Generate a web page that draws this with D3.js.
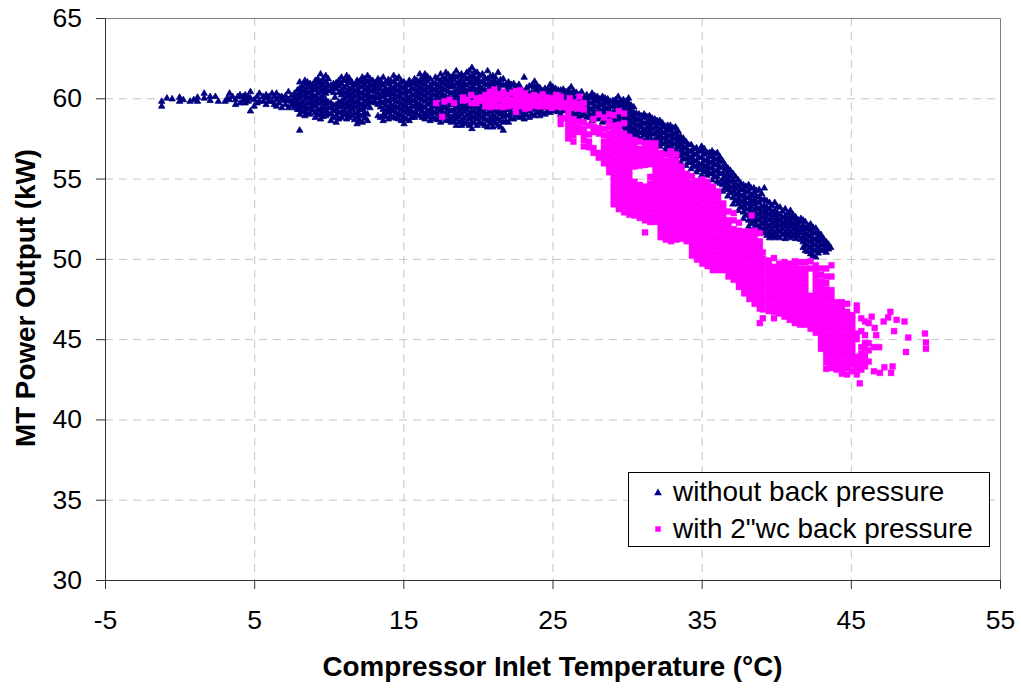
<!DOCTYPE html>
<html><head><meta charset="utf-8">
<script src="https://cdn.jsdelivr.net/npm/d3@7/dist/d3.min.js"></script>
<style>html,body{margin:0;padding:0;background:#fff}svg{display:block}text{font-family:"Liberation Sans",Arial,sans-serif;fill:#000}</style>
</head><body><div id="chart"></div>
<script>
const xTicks=[-5,5,15,25,35,45,55];
const yTicks=[30,35,40,45,50,55,60,65];
const xTitle="Compressor Inlet Temperature (°C)";
const yTitle="MT Power Output (kW)";
const seriesNames=["without back pressure",'with 2"wc back pressure'];
// columns: [temperature, [power readings at that temperature]]
const navyPlateau=[[-1.2,[59.5,59.8]],[-.85,[60]],[-.5,[59.95]],[0,[59.8,60.05]],[.25,[59.9]],[.7,[59.8]],[.95,[59.9]],[1.2,[59.8,60.05]],[1.65,[60,60.3]],[2.05,[59.85,60.1]],[2.4,[60.1]],[2.6,[59.8]],[3.05,[59.8]],[3.2,[60]],[3.35,[59.9,60.3]],[3.55,[60.1]],[3.75,[59.9,59.6]],[3.9,[60.1]],[4.05,[59.7,60.2]],[4.25,[59.85,60.1]],[4.4,[59.7,60,60.2]],[4.6,[59.8,60.1]],[4.75,[59.2,60,60.4]],[5,[59.5,59.9]],[5.2,[59.7,60.1]],[5.35,[59.8,60.3]],[5.6,[59.8,60.1]],[5.8,[59.6,60,60.2]],[6,[59.8,60.1]],[6.2,[59.8,60.3]],[6.35,[59.6,60.1]],[6.5,[59.5,59.9,60.3]],[6.7,[59.7,60.1]],[6.85,[59.4,59.9,60.1]],[7.1,[59.6,59.85,60.15]],[7.3,[59.4,59.9,60.4]],[7.5,[59.55,59.8,60.15]],[7.7,[59.4,59.7,60,60.3]],[7.9,[59.3,59.55,59.85,60.15,60.5]]];
const navyCloud=[
[8.05,[58,59,59.3,59.6,60,60.3,60.6,61]],[8.4,[58.9,59.2,59.5,59.9,60.2,60.5,60.9,61.1]],[8.75,[59,59.4,59.7,60,60.4,60.7,60.9]],[9.1,[58.8,59.1,59.5,59.8,60.1,60.5,60.8,61.1]],[9.45,[58.7,59,59.3,59.7,60,60.4,60.7,61,61.5]],[9.8,[58.9,59.2,59.6,59.9,60.3,60.6,61,61.4]],[10.15,[58.6,59,59.4,59.7,60.5,60.8]],[10.42,[60.05]],[10.5,[58.5,58.9,59.3,59.6,60.6,60.95]],[10.85,[58.8,59.1,59.5,59.8,60.2,60.5,60.9,61.3]],[11.2,[58.7,59,59.4,59.7,60.1,60.4,60.8,61.1,61.4]],[11.55,[58.9,59.3,59.6,59.95,60.3,60.65,61]],[11.9,[58.4,58.8,59.1,59.5,59.8,60.2,60.5,60.9,61.1]],[12.25,[58.5,58.9,59.3,59.6,60,60.3,60.7,61,61.3]],[12.6,[58.6,59,59.6,59.9,60.25,60.6,61,61.4]],[12.95,[59.8,60.1,60.5,60.8,61.1]],[13.3,[58.9,59.6,60,60.3,60.7,61,61.2]],[13.65,[58.6,58.95,59.3,59.7,60.1,60.4,60.8,61.3]],[14,[58.7,59.1,59.4,59.8,60.2,60.5,60.9,61.15]],[14.35,[58.8,59.2,59.5,59.9,60.25,60.6,61,61.4]],[14.7,[58.7,59,59.4,59.75,60.1,60.45,60.8,61.3]],[15.05,[58.4,58.8,59.2,59.55,59.9,60.3,60.65,61]],[15.4,[58.6,59,59.3,59.7,60,60.4,60.8,61.1]],[15.75,[58.8,59.1,59.5,59.85,60.2,60.55,60.9,61.2]],[16.1,[58.9,59.3,59.6,60,60.35,60.7,61.05,61.5]],[16.45,[58.7,59,59.4,59.8,60.15,60.5,60.85,61.2,61.5]],[16.8,[58.6,59,59.3,59.7,60,60.4,60.75,61.2]],[17.15,[58.7,59.1,59.5,59.85,60.2,60.55,60.9,61.3]],[17.5,[58.5,58.9,59.25,59.6,60,60.35,60.7,61.05,61.5]],[17.85,[58.6,59,59.4,59.75,60.1,60.5,60.85,61.2,61.6]],[18.2,[58.5,58.8,59.2,59.6,59.95,60.3,60.7,61,61.3]],[18.55,[58.3,58.7,59,59.4,59.8,60.15,60.5,60.9,61.3,61.7]],[18.9,[58.3,58.6,59,59.35,59.7,60.1,60.45,60.8,61.15,61.5]],[19.25,[58.5,58.9,59.3,59.65,60,60.4,60.8,61.2,61.6]],[19.6,[58.1,58.5,58.85,59.2,59.6,60,60.35,60.7,61.05,61.4,61.9]],[19.95,[58.3,58.7,59.05,59.4,59.8,60.15,60.5,60.9,61.2,61.6]],[20.3,[58.4,58.8,59.15,59.5,59.9,60.25,60.6,61,61.5]],[20.65,[58.2,58.6,59,59.35,59.7,60.1,60.5,60.85,61.2,61.7]],[21,[58.2,58.6,58.95,59.3,59.7,60,60.4,60.8,61.1,61.4]],[21.35,[58.3,58.7,59.1,59.45,59.8,60.2,60.6,60.95,61.6]],[21.7,[58,58.5,58.85,59.2,59.6,60,60.35,60.8,61.2]],[22.05,[58.5,58.9,59.3,59.65,60,60.4,60.7,61]],[22.4,[58.7,59.05,59.4,59.8,60.2,60.5,60.9]],[22.75,[58.8,59.15,59.5,59.9,60.3,60.6,60.85]],[23.1,[58.7,59,59.4,59.75,60.1,60.4,61.3]],[23.45,[58.8,59.2,59.55,59.9,60.3,60.75]],[23.8,[58.9,59.3,59.65,60,60.4,60.7,61.05]],[24.15,[58.9,59.25,59.6,59.95,60.3,60.65]],[24.5,[59,59.4,59.75,60.1,60.4,60.6]],[24.85,[59.1,59.45,59.8,60.2,60.5,60.85]],[25.2,[59.2,59.5,59.9,60.2,60.6]],[25.55,[59,59.4,59.8,60.1,60.5]],[25.9,[59.3,59.7,60.05,60.4]],[26.25,[59.2,59.6,59.9,60.3,60.7]]];
const navyCloudInfill=[
[8.22,[59.15,59.45,59.75,60.15,60.45,60.75]],[8.57,[59.05,59.35,59.7,60.05,60.35,60.7,61]],[8.92,[59.25,59.55,59.85,60.2,60.55,60.85]],[9.27,[58.95,59.3,59.65,59.95,60.3,60.65,60.95,61.2]],[9.62,[58.85,59.15,59.45,59.8,60.15,60.5,60.85,61.2]],[9.97,[59.05,59.4,59.75,60.45,60.8,61.2]],[10.32,[58.8,59.2,59.55,60.35,60.7,60.9]],[10.67,[58.7,59.1,59.45,59.75,60.35,60.75,61.1]],[11.02,[58.95,59.25,59.6,59.95,60.3,60.65,61.1]],[11.37,[58.8,59.15,59.5,59.85,60.2,60.55,60.95,61.25]],[11.72,[58.65,59.05,59.4,59.75,60.1,60.45,60.8]],[12.07,[58.6,58.95,59.3,59.65,60,60.35,60.7,61.05]],[12.42,[58.75,59.1,59.45,59.8,60.15,60.5,60.85,61.2]],[12.77,[59.4,59.75,60.1,60.45,60.8,61.2]],[13.12,[59.7,60.05,60.4,60.65,60.95]],[13.47,[58.8,59.45,59.8,60.15,60.55,60.9,61.1]],[13.82,[58.85,59.2,59.55,59.9,60.25,60.6,61]],[14.17,[58.9,59.25,59.6,60,60.35,60.7,61.05]],[14.52,[58.75,59.1,59.45,59.8,60.15,60.5,60.85,61.2]],[14.87,[58.6,58.95,59.3,59.65,60,60.35,60.7,61.05]],[15.22,[58.7,59.1,59.45,59.8,60.15,60.5,60.85]],[15.57,[58.8,59.15,59.5,59.85,60.2,60.6,60.95]],[15.92,[59,59.35,59.7,60.1,60.45,60.8,61.1]],[16.27,[58.8,59.15,59.5,59.9,60.25,60.6,60.95,61.3]],[16.62,[58.85,59.2,59.6,59.95,60.3,60.65,61.05,61.35]],[16.97,[58.8,59.15,59.5,59.85,60.2,60.55,60.95]],[17.32,[58.65,59,59.35,59.7,60.1,60.45,60.8,61.2]],[17.67,[58.75,59.1,59.45,59.8,60.2,60.55,60.95,61.3]],[18.02,[58.65,58.95,59.3,59.65,60,60.4,60.75,61.1,61.45]],[18.37,[58.55,58.9,59.25,59.6,60,60.35,60.75,61.15,61.45]],[18.72,[58.5,58.85,59.2,59.55,59.9,60.3,60.65,61,61.4]],[19.07,[58.4,58.75,59.15,59.5,59.85,60.25,60.6,60.95,61.35]],[19.42,[58.3,58.7,59.05,59.45,59.8,60.2,60.55,60.95,61.3,61.7]],[19.77,[58.45,58.8,59.15,59.5,59.9,60.25,60.6,60.95,61.3,61.65]],[20.12,[58.5,58.9,59.25,59.6,59.95,60.35,60.7,61.05,61.4]],[20.47,[58.3,58.7,59.05,59.4,59.8,60.15,60.5,60.9,61.25]],[20.82,[58.4,58.75,59.15,59.5,59.85,60.25,60.6,60.95,61.35]],[21.17,[58.45,58.8,59.2,59.55,59.9,60.3,60.65,61,61.3]],[21.52,[58.2,58.6,59,59.35,59.7,60.1,60.45,60.85,61.15]],[21.87,[58.55,58.95,59.3,59.7,60.05,60.45,60.85]],[22.22,[58.75,59.1,59.45,59.85,60.2,60.55,60.85]],[22.57,[58.9,59.25,59.6,60,60.35,60.7]],[22.92,[58.85,59.2,59.6,59.95,60.25,60.55]],[23.27,[58.95,59.3,59.65,60,60.3,60.65]],[23.62,[59,59.35,59.7,60.05,60.35,60.8]],[23.97,[59.1,59.45,59.8,60.15,60.5,60.8]],[24.32,[59.1,59.45,59.8,60.15,60.45]],[24.67,[59.2,59.55,59.9,60.25,60.55]],[25.02,[59.3,59.65,60,60.35,60.7]],[25.37,[59.15,59.5,59.85,60.2,60.5]],[25.72,[59.2,59.55,59.9,60.25,60.55]],[26.07,[59.1,59.45,59.8,60.15,60.5]],[26.42,[59,59.35,59.7,60.05,60.45]]];
const navyFalling=[
[26.6,[58.6,59,59.35,59.7,60,60.35]],[26.95,[58.9,59.2,59.6,59.95,60.4]],[27.3,[58.8,59.2,59.5,59.85,60.2]],[27.65,[58.6,58.9,59.3,59.7,60.05,60.3]],[28,[58.7,59.1,59.45,59.8,60.1]],[28.35,[58.5,58.9,59.25,59.6,59.9,60.1]],[28.7,[58.6,59,59.35,59.7,59.95]],[29.05,[58.4,58.8,59.1,59.5,59.85]],[29.4,[58.3,58.7,59,59.4,59.7,60.1]],[29.75,[58.2,58.6,58.95,59.3,59.6,59.9]],[30.1,[57.9,58.3,58.65,59,59.35,59.7,60]],[30.45,[57.7,58.1,58.45,58.8,59.1,59.45]],[30.8,[57.5,57.9,58.3,58.65,59]],[31.15,[57.3,57.7,58,58.4,58.8,59]],[31.5,[57.2,57.6,57.95,58.3,58.6,58.9]],[31.85,[57.1,57.4,57.8,58.15,58.5,58.7]],[32.2,[57,57.35,57.7,58,58.4,58.6]],[32.55,[56.8,57.2,57.55,57.9,58.25]],[32.9,[56.6,57,57.3,57.65,58,58.3]],[33.25,[56.4,56.8,57.15,57.5,57.85,58.2]],[33.6,[56,56.4,56.75,57.1,57.4,57.6]],[33.95,[55.8,56.2,56.55,56.9,57.3]],[34.3,[55.6,56,56.3,56.7,57.1]],[34.65,[55.4,55.75,56.1,56.5,56.9]],[35,[55.2,55.6,55.9,56.3,56.7,57]],[35.35,[55.2,55.5,55.8,56.15,56.6]],[35.7,[54.9,55.3,55.65,56,56.4,56.7]],[36.05,[54.8,55.1,55.5,55.85,56.2,56.6]],[36.4,[54.2,54.6,54.95,55.3,55.7,56.1]],[36.75,[53.9,54.3,54.6,54.95,55.3,55.65]],[37.1,[53.4,53.8,54.2,54.5,54.9,55.3]],[37.45,[53,53.4,53.75,54.1,54.5,54.9]],[37.8,[52.5,52.9,53.3,53.6,53.95,54.3,54.6]],[38.15,[52,52.4,52.75,53.1,53.45,53.8,54.2,54.6]],[38.5,[51.9,52.3,52.65,53,53.4,53.7,54.1,54.4]],[38.85,[51.7,52,52.4,52.75,53.1,53.5,53.85,54.3]],[39.2,[51.6,51.9,52.3,52.65,53,53.3,53.7,54.4]],[39.55,[51.3,51.65,52,52.4,52.75,53.1,53.5]],[39.9,[51.3,51.6,52,52.35,52.7,53,53.5]],[40.25,[51.3,51.7,52.05,52.4,52.75,53.2]],[40.6,[51.25,51.6,52,52.3,52.65,53.1]],[40.95,[51.3,51.65,52,52.3,52.65,53]],[41.3,[51.25,51.6,51.95,52.25,52.6]],[41.65,[51.2,51.6,51.9,52.3,52.5]],[41.95,[50.5,50.85,51.2,51.55,51.9,52.3]],[42.3,[50.3,50.7,51.05,51.4,51.75,52.15]],[42.65,[50.1,50.5,50.85,51.2,51.6,51.9]],[43,[50.5,50.85,51.2,51.5]],[43.35,[50.4,50.75,51.05]],[43.65,[50.7]]];
const navyFallingInfill=[
[26.77,[58.8,59.15,59.5,59.85,60.2]],[27.12,[59,59.35,59.7,60.05]],[27.47,[59,59.35,59.7,60.05]],[27.82,[58.8,59.15,59.5,59.85,60.15]],[28.17,[58.8,59.25,59.6,59.95]],[28.52,[58.7,59.05,59.4,59.75,60]],[28.87,[58.8,59.15,59.5,59.8]],[29.22,[58.6,58.95,59.25,59.6,59.9]],[29.57,[58.5,58.85,59.2,59.55,59.85]],[29.92,[58.1,58.45,58.8,59.15,59.5,59.8]],[30.27,[57.9,58.2,58.55,58.9,59.2,59.55]],[30.62,[57.7,58,58.35,58.7,59.05]],[30.97,[57.5,57.85,58.2,58.55,58.9]],[31.32,[57.45,57.8,58.15,58.5,58.85]],[31.67,[57.35,57.75,58.1,58.45,58.75]],[32.02,[57.2,57.55,57.9,58.25,58.6]],[32.37,[57.15,57.5,57.85,58.2,58.45]],[32.72,[57,57.35,57.7,58.05,58.3]],[33.07,[56.8,57.15,57.5,57.8,58.15]],[33.42,[56.5,56.95,57.3,57.65,57.95]],[33.77,[56.25,56.6,56.95,57.25,57.5]],[34.12,[56,56.35,56.7,57.1]],[34.47,[55.8,56.15,56.5,56.85]],[34.82,[55.55,55.9,56.3,56.7]],[35.17,[55.4,55.75,56.1,56.5,56.85]],[35.52,[55.3,55.65,56,56.35,56.6]],[35.87,[55.1,55.45,55.85,56.2,56.55]],[36.22,[54.7,55.3,55.7,56.05,56.35]],[36.57,[54.4,54.75,55.1,55.5,55.85]],[36.92,[54.1,54.45,54.8,55.15,55.5]],[37.27,[53.6,54,54.35,54.7,55.1]],[37.62,[53.2,53.55,53.9,54.3,54.7]],[37.97,[52.7,53.1,53.45,53.8,54.15,54.5]],[38.32,[52.2,52.55,52.9,53.25,53.6,53.95,54.4]],[38.67,[52.1,52.45,52.8,53.2,53.55,53.9,54.25]],[39.02,[51.85,52.2,52.55,52.9,53.25,53.65,54.05]],[39.37,[51.45,51.8,52.15,52.5,52.85,53.2,53.6]],[39.72,[51.45,51.8,52.2,52.55,52.9,53.3]],[40.07,[51.45,51.8,52.15,52.5,52.85,53.25]],[40.42,[51.5,51.85,52.2,52.55,52.95]],[40.77,[51.45,51.8,52.15,52.5,52.85]],[41.12,[51.45,51.8,52.15,52.5,52.75]],[41.47,[51.4,51.75,52.1,52.4]],[41.8,[50.7,51.05,51.4,51.75,52.1,52.4]],[42.12,[50.45,50.8,51.15,51.5,51.85,52.05]],[42.47,[50.2,50.55,50.9,51.25,51.6,51.95]],[42.82,[50.35,50.7,51.05,51.4,51.65]],[43.17,[50.55,50.9,51.25]],[43.5,[50.6,50.9]]];
const magentaBand=[[17.2,[59.7]],[17.6,[58.85]],[17.75,[59.8]],[18.1,[59.9]],[18.4,[59.7]],[19,[59.85,60.05]],[19.3,[59.9]],[19.55,[59.7,60.2]],[19.9,[59.7,60]],[20.2,[59.85,60.05]],[20.5,[59.5,59.85,60.2]],[20.8,[59.45,59.8,60.1,60.4]],[21.1,[59.5,59.85,60.2,60.55]],[21.4,[59.5,59.9,60.25]],[21.7,[59.45,59.8,60.15,60.4]],[22,[59.5,59.85,60.2]],[22.3,[59.55,59.9,60.35]],[22.55,[59.15,59.5,59.85,60.15,60.45]],[22.85,[59.5,59.8,60.15,60.5]],[23.15,[59.35,59.7,60.05,60.3]],[23.45,[59.4,59.75,60.1]],[23.75,[59.55,59.85,60.2]],[24.05,[59.5,59.8,60.1]],[24.35,[59.5,59.85,60.25]],[24.65,[59.5,59.8,60.05]],[24.95,[59.4,59.75,60]],[25.25,[59.5,59.85,60.2]],[25.55,[58.4,58.75,59.45,59.8,60.1]],[25.85,[58.75,59.45,59.7]],[26.15,[59.4,59.7,60]],[26.45,[59.4,59.75]],[26.8,[59.35,59.65,60.1]],[27.1,[59.3,59.7]]];
const magentaMass=[
[26.05,[57.5,57.85,58.2,58.5,58.85,59.2]],[26.4,[57.3,57.7,58.05,58.4,58.7]],[26.75,[57.9,58.2,58.55]],[27.1,[57,57.4,57.75,58.1,58.5]],[27.45,[56.95,57.3,57.75,58.3]],[27.75,[56.6,56.9,57.9,58.25,58.7]],[28.1,[56.3,56.6,57.8,58.15,59]],[28.45,[55.95,56.3,56.6,56.95,57.3,57.7,58.1,58.8]],[28.8,[55.4,55.75,56.1,56.45,56.8,57.1,57.45,57.8,58.2,58.55,59]],[29.1,[53.4,53.75,54.1,54.45,54.8,55.15,55.5,55.85,56.2,56.55,56.9,57.25,57.6,57.95,58.3,58.95]],[29.45,[53.1,53.45,53.8,54.15,54.5,54.85,55.2,55.55,55.9,56.25,56.6,56.95,57.3,57.65,58,58.35,59.2]],[29.8,[52.9,53.25,53.6,53.95,54.3,54.65,55,55.35,55.7,56.05,56.4,56.75,57.1,57.45,57.8,58.45,59.05]],[30.15,[52.75,53.1,53.45,53.8,54.15,54.5,54.85,55.2,55.55,55.9,56.25,56.6,56.95,57.3,57.6]],[30.5,[52.7,53.05,53.4,53.75,54.1,54.45,54.8,55.75,56.1,56.45,56.8,57.1,57.4]],[30.85,[52.55,52.9,53.25,53.6,53.95,54.3,54.6,55.8,56.15,56.5,56.85,57.3]],[31.2,[51.65,52.4,52.75,53.1,53.45,53.8,54.15,54.5,55.85,56.2,56.55,56.9,57.2]],[31.55,[52.3,52.65,53,53.35,53.7,54.05,54.4,54.7,55.1,55.9,56.25,56.6,56.95,57.2]],[31.9,[52.3,52.65,53,53.35,53.7,54.05,54.4,54.75,55.1,55.45,55.8,56.15,56.5,56.85,57.2]],[32.25,[51.35,51.7,52.05,52.4,52.75,53.1,53.45,53.8,54.15,54.5,54.85,55.2,55.55,55.9,56.25,56.6]],[32.6,[51.2,51.55,51.9,52.25,52.6,52.95,53.3,53.65,54,54.35,54.7,55.05,55.4,55.75,56.1,56.5]],[32.95,[51.1,51.4,51.75,52.1,52.45,52.8,53.15,53.5,53.85,54.2,54.55,54.9,55.25,55.6,55.95,56.3,56.7]],[33.3,[51.2,51.55,51.9,52.25,52.6,52.95,53.3,53.65,54,54.35,54.7,55.05,55.4,55.75,56.1,56.5]],[33.65,[51.25,51.6,51.95,52.3,52.65,53,53.35,53.7,54.05,54.4,54.75,55.1,55.45,55.75]],[34,[51.1,51.45,51.8,52.15,52.5,52.85,53.2,53.55,53.9,54.25,54.6,54.95,55.3]],[34.35,[50.2,50.55,50.9,51.25,51.6,51.95,52.3,52.65,53,53.35,53.7,54.05,54.4,54.75,55.15]],[34.7,[49.95,50.3,50.65,51,51.35,51.7,52.05,52.4,52.75,53.1,53.45,53.8,54.15,54.5,54.85]],[35.05,[49.7,50.05,50.4,50.75,51.1,51.45,51.8,52.15,52.5,52.85,53.2,53.55,53.9,54.25,54.6,54.95]],[35.4,[49.55,49.9,50.25,50.6,50.95,51.3,51.65,52,52.35,52.7,53.05,53.4,53.75,54.1,54.45,54.8]],[35.75,[49.3,49.65,50,50.35,50.7,51.05,51.4,51.75,52.1,52.45,52.8,53.15,53.5,53.85,54.2,54.5]],[36.1,[49.3,49.65,50,50.35,50.7,51.05,51.4,51.75,52.1,52.45,52.8,53.15,53.5,53.85,54.2]],[36.45,[49.3,49.65,50,50.35,50.7,51.05,51.4,51.75,52.1,52.45,52.8,53.1,53.45]],[36.8,[48.9,49.25,49.6,49.95,50.3,50.65,51,51.35,51.7,52.05,52.4,52.95]],[37.15,[48.7,49.05,49.4,49.75,50.1,50.45,50.8,51.15,51.5,51.85,52.4,52.85]],[37.5,[48.25,48.6,48.95,49.3,49.65,50,50.35,50.7,51.05,51.4,51.75,52.25]],[37.85,[47.85,48.2,48.55,48.9,49.25,49.6,49.95,50.3,50.65,51,51.35,51.7]],[38.2,[47.5,47.85,48.2,48.55,48.9,49.25,49.6,49.95,50.3,50.65,51,51.35,51.7]],[38.35,[52.7]],[38.55,[47.2,47.55,47.9,48.25,48.6,48.95,49.3,49.65,50,50.35,50.7,51.05,51.4,51.75]],[38.9,[46,46.9,47.25,47.6,47.95,48.3,48.65,49,49.35,49.7,50.05,50.4,50.75,51.1,51.6]],[39.1,[46.3,46.85,47.2,47.55,47.9,48.25,48.6,48.95,49.3,49.65,50,50.4]],[39.5,[46.75,47.1,47.45,47.8,48.15,48.5,48.85,49.2,49.55,49.9]],[39.85,[46.3,46.7,47.05,47.4,47.75,48.1,48.45,48.8,49.15,49.5,50.05]],[40.2,[46.6,46.95,47.3,47.65,48,48.35,48.7,49.05,49.4,49.7]],[40.55,[46.4,46.75,47.1,47.45,47.8,48.15,48.5,48.85,49.2,49.55,49.8]],[40.9,[46.2,46.55,46.9,47.25,47.6,47.95,48.3,48.65,49,49.35,49.7]],[41.25,[46,46.35,46.7,47.05,47.4,47.75,48.1,48.45,48.8,49.15,49.5,49.85]],[41.6,[45.9,46.25,46.6,46.95,47.3,47.65,48,48.35,48.7,49.05,49.4,49.8]],[41.95,[45.9,46.25,46.6,46.95,47.3,47.65,48,48.35,48.7,49.05,49.4,49.8]],[42.3,[45.65,46,46.35,46.7,47.05,47.4,47.7,49.4,49.85]],[42.65,[45.4,45.75,46.1,46.45,46.8,47.15,47.5,47.85,48.2,48.55,48.9,49.25,49.6]],[43,[44.4,44.75,45.1,45.45,45.8,46.15,46.5,46.85,47.2,47.55,47.9,48.25,48.6,49,49.4]],[43.35,[43.15,43.55,43.9,44.25,44.6,44.95,45.3,45.65,46,46.35,46.7,47.05,47.4,47.75,48.1,48.5,48.9,49.4]],[43.7,[43.2,43.55,43.9,44.25,44.6,44.95,45.3,45.65,46,46.35,46.7,47.05,47.4,47.75,48.05,48.9,49.6]],[44.05,[43.1,43.45,43.8,44.15,44.5,44.85,45.2,45.55,45.9,46.25,46.6,46.95,47.3]],[44.4,[42.85,43.2,43.55,43.9,44.25,44.6,44.95,45.3,45.65,46,46.35,46.7,47.05,47.3]],[44.75,[42.8,43.2,43.55,43.9,44.25,44.6,44.95,45.3,45.65,46,46.35,46.7,47.2]],[45.1,[43,43.4,43.75,44.1,44.45,44.8,45.15,45.5,45.85,46.2,46.5]],[45.4,[42.8,43.2,43.55,43.9,45,45.35,46.8,47.1]],[45.7,[43.1,43.45,43.8,44.1,44.5,45.5,46.3]],[45.95,[43.3,43.65,44,44.4,44.75,45.25,46.1]],[46.2,[43.6,44.3,44.75,46]]];
const magentaTail=[[45.6,[42.25]],[46.4,[46.4]],[46.55,[43,44.5]],[46.6,[45.7]],[46.7,[45.25]],[46.9,[44.5]],[46.95,[42.9]],[47.2,[46.1]],[47.25,[43.25]],[47.5,[46.35]],[47.65,[46.7]],[47.7,[42.9]],[47.8,[43.3]],[47.9,[45.5]],[48.07,[46.2]],[48.6,[46.1]],[48.7,[44.2]],[48.85,[45.1]],[49.97,[45.35]],[50.04,[44.4,44.8]]];

const flat=cols=>cols.flatMap(([x,ys])=>ys.map(y=>[x,y]));
const navy=flat([...navyPlateau,...navyCloud,...navyCloudInfill,...navyFalling,...navyFallingInfill]);
const magenta=flat([...magentaBand,...magentaMass,...magentaTail]);

const W=1021,H=688,L=105,R=1000,T=18,B=580;
const NAVY="#000080",PINK="#ff00ff";
const svg=d3.select("#chart").append("svg").attr("width",W).attr("height",H);
const x=d3.scaleLinear().domain([-5,55]).range([L,R]);
const y=d3.scaleLinear().domain([30,65]).range([B,T]);
const grid=svg.append("g").attr("stroke","#c4c4c4").attr("stroke-width",1).attr("stroke-dasharray","8 6");
grid.selectAll("line.v").data(xTicks.slice(1,-1)).join("line").attr("x1",d=>x(d)+.5).attr("x2",d=>x(d)+.5).attr("y1",T).attr("y2",B);
grid.selectAll("line.h").data(yTicks.slice(1,-1)).join("line").attr("x1",L).attr("x2",R).attr("y1",d=>y(d)+.5).attr("y2",d=>y(d)+.5);
svg.append("path").attr("d",`M${L+.5},${T+.5}H${R+.5}V${B}`).attr("fill","none").attr("stroke","#808080");
const tri=d3.symbol().type(d3.symbolTriangle).size(18)();
const sq=d3.symbol().type(d3.symbolSquare).size(36)();
svg.append("g").attr("stroke",NAVY).attr("stroke-width",.8).attr("stroke-linejoin","round").selectAll("path").data(navy).join("path").attr("d",tri).attr("fill",NAVY).attr("transform",d=>`translate(${x(d[0])},${y(d[1])})`);
svg.append("g").selectAll("path").data(magenta).join("path").attr("d",sq).attr("fill",PINK).attr("stroke",PINK).attr("stroke-width",.3).attr("transform",d=>`translate(${x(d[0])},${y(d[1])})`);
const xa=svg.append("g").attr("transform",`translate(0,${B})`).call(d3.axisBottom(x).tickValues(xTicks).tickSize(9).tickPadding(21).tickFormat(d=>String(d)));
const ya=svg.append("g").attr("transform",`translate(${L},0)`).call(d3.axisLeft(y).tickValues(yTicks).tickSize(9).tickPadding(14));
[xa,ya].forEach(a=>{a.selectAll("text").style("font-size","26.5px").attr("fill","#000");a.selectAll("line,path").attr("stroke","#333")});
svg.append("text").attr("x",552.5).attr("y",676).attr("text-anchor","middle").style("font-size","27.8px").style("font-weight","bold").text(xTitle);
svg.append("text").attr("transform","translate(35,298) rotate(-90)").attr("text-anchor","middle").style("font-size","27.8px").style("font-weight","bold").text(yTitle);
svg.append("rect").attr("x",628.5).attr("y",472.5).attr("width",361).attr("height",74).attr("fill","#fff").attr("stroke","#000");
svg.append("path").attr("d",d3.symbol().type(d3.symbolTriangle).size(26)()).attr("fill",NAVY).attr("transform","translate(658,493)");
svg.append("path").attr("d",d3.symbol().type(d3.symbolSquare).size(30)()).attr("fill",PINK).attr("transform","translate(658,529)");
svg.append("text").attr("x",673).attr("y",501).style("font-size","27.9px").text(seriesNames[0]);
svg.append("text").attr("x",673).attr("y",538).style("font-size","27.9px").text(seriesNames[1]);
</script></body></html>
